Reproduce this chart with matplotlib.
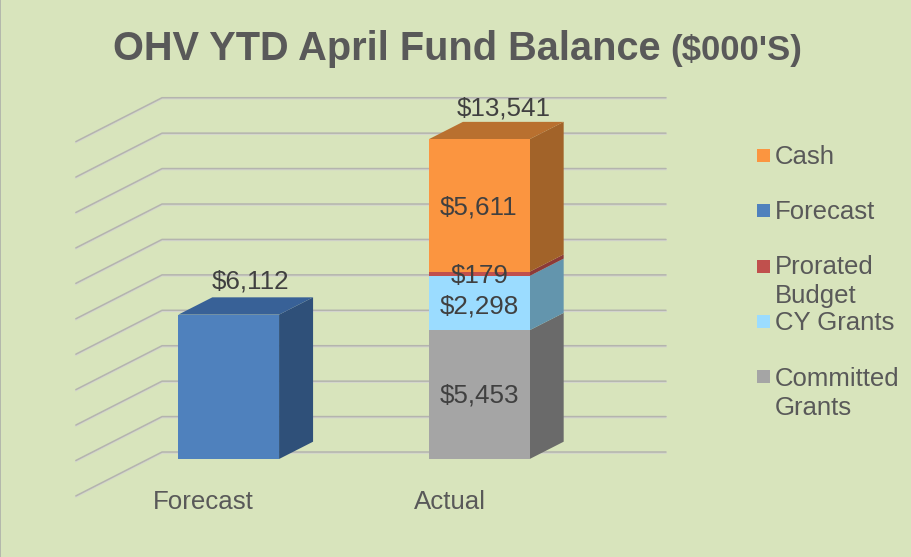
import matplotlib
matplotlib.use('Agg')
import matplotlib.pyplot as plt
import numpy as np
from matplotlib.patches import Rectangle

plt.rcParams['font.family'] = ['Liberation Sans', 'DejaVu Sans']

# data, $000
categories = ['Forecast', 'Actual']
forecast = [6112, 0]
committed = [0, 5453]
cy_grants = [0, 2298]
prorated = [0, 179]
cash = [0, 5611]
totals = [6112, 13541]
grid_values = np.arange(0, 16500, 1500)
legend_names = ['Cash', 'Forecast', 'Prorated\nBudget', 'CY Grants', 'Committed\nGrants']

BG = '#d8e4bc'
W, H = 911, 557
# front, side, top colours
C_BLUE = ('#4f81bd', '#2f5079', '#386197')
C_GRAY = ('#a5a5a5', '#6a6a6a', '#7c7c7c')
C_SKY = ('#9bdcff', '#6395ad', '#6f9fb5')
C_RED = ('#c0504d', '#8c3a38', '#9a403d')
C_ORANGE = ('#fb9540', '#a26329', '#b9702f')

BAR_W = 0.402
DEPTH_X = 34 / 250.6   # bar depth in category units
DEPTH_Y = 17.3 / 0.02362  # and in $000


def px(x, y):
    return x / W, 1 - y / H


fig = plt.figure(figsize=(W / 100, H / 100), dpi=100, facecolor=BG)
ax = fig.add_axes([0, 0, 1, 1])
ax.set_xlim(-228.7 / 250.6, (W - 228.7) / 250.6)
ax.set_ylim((459 - H) / 0.02362, 459 / 0.02362)
ax.axis('off')

# thin gray edge down the left side
fig.add_artist(Rectangle((0, 0), 1 / W, 1, transform=fig.transFigure,
                         facecolor='#b4b8ac', edgecolor='none'))

# 3d style grid: floor diagonal then the back wall
for v in grid_values:
    xs = [-0.61, -0.266, 1.745]
    ys = [v - 1563, v + 296, v + 296]
    ax.plot(xs, [y - 42 for y in ys], color='#d4d5ce', lw=1.1, zorder=1)
    ax.plot(xs, ys, color='#b4b4ae', lw=1.1, zorder=1, solid_capstyle='round')


def draw_bar(i, bottom, value, colors, with_top=False):
    left = i - BAR_W / 2
    right = i + BAR_W / 2
    ax.bar(i, value, BAR_W, bottom=bottom, color=colors[0], linewidth=0, zorder=4)
    top = bottom + value
    ax.fill([right, right + DEPTH_X, right + DEPTH_X, right],
            [bottom, bottom + DEPTH_Y, top + DEPTH_Y, top],
            color=colors[1], linewidth=0, zorder=3)
    if with_top:
        ax.fill([left, left + DEPTH_X, right + DEPTH_X, right],
                [top, top + DEPTH_Y, top + DEPTH_Y, top],
                color=colors[2], linewidth=0, zorder=3)


draw_bar(0, 0, forecast[0], C_BLUE, with_top=True)
base = 0
for vals, cols, is_top in [(committed, C_GRAY, False), (cy_grants, C_SKY, False),
                           (prorated, C_RED, False), (cash, C_ORANGE, True)]:
    draw_bar(1, base, vals[1], cols, with_top=is_top)
    base += vals[1]

# value labels
LABEL = '#404040'


def value_label(i, y, text, ox, oy):
    ax.annotate(text, (i, y), xytext=(ox, oy), textcoords='offset pixels',
                ha='center', va='center', fontsize=18.7, color=LABEL, zorder=6)


value_label(0, totals[0], '$6,112', 22, 33)
value_label(1, totals[1], '$13,541', 24, 31)
value_label(1, committed[1] + cy_grants[1] + prorated[1] + cash[1] / 2, '$5,611', -1, -2)
value_label(1, committed[1] + cy_grants[1] + prorated[1] / 2, '$179', 0, -2)
value_label(1, committed[1] + cy_grants[1] / 2, '$2,298', 0, -3)
value_label(1, committed[1] / 2, '$5,453', 0, -1)

# category labels sit left of the bars
for i, name, ox in zip(range(2), categories, [-25, -29]):
    ax.annotate(name, (i, 0), xytext=(ox, -43), textcoords='offset pixels',
                ha='center', va='center', fontsize=18.6, color='#595959')

# title in two sizes
x, y = px(113, 60)
fig.text(x, y, 'OHV YTD April Fund Balance', fontsize=28.6, fontweight='bold',
         color='#595959', ha='left', va='baseline')
x, y = px(670, 60)
fig.text(x, y, "($000'S)", fontsize=25, fontweight='bold',
         color='#595959', ha='left', va='baseline')

# legend by hand, rows are evenly spaced whatever the line count
leg_colors = [C_ORANGE[0], C_BLUE[0], C_RED[0], C_SKY[0], C_GRAY[0]]
leg_y = [155, 210, 266.5, 321.5, 376]
text_y = [164, 218.7, 273.8, 329.7, 385.5]
for name, col, ly, ty in zip(legend_names, leg_colors, leg_y, text_y):
    x, y = px(757, ly + 6.5)
    fig.add_artist(Rectangle((x, y), 13 / W, 13 / H, transform=fig.transFigure,
                             facecolor=col, edgecolor='none'))
    for n, line in enumerate(name.split('\n')):
        x, y = px(775, ty + n * 29.7)
        fig.text(x, y, line, fontsize=18.5, color='#595959', ha='left', va='baseline')

fig.savefig('out.png', dpi=100, facecolor=BG)
